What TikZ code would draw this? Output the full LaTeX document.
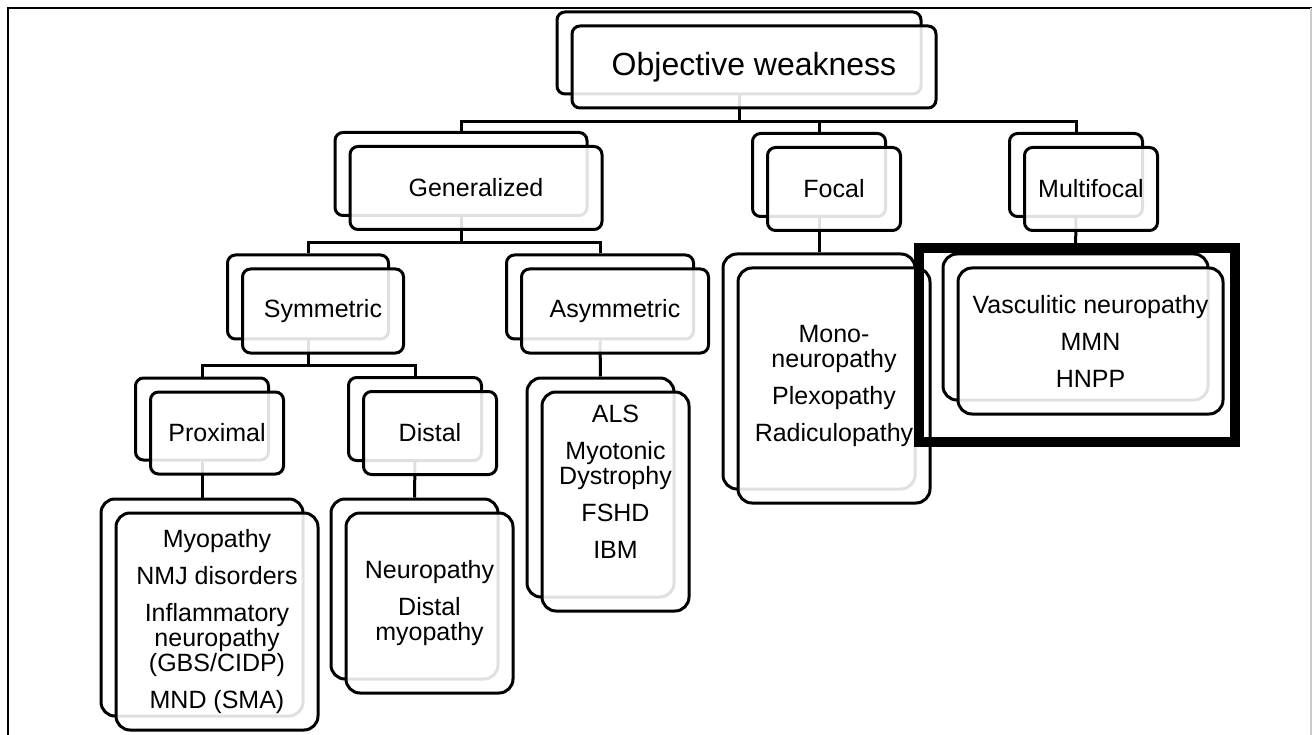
\documentclass[tikz,border=0pt]{standalone}
\usepackage{fontspec}
\setmainfont{Liberation Sans}
\begin{document}
\begin{tikzpicture}[x=1pt, y=-1pt,
  backbox/.style={draw, line width=3pt, rounded corners=8pt, fill=white, inner sep=0pt},
  frontbox/.style={backbox, fill opacity=0.88, text opacity=1, align=center, font=\fontsize{25}{25}\selectfont},
  listbox/.style={rounded corners=14pt},
  wire/.style={draw, line width=3pt},
  hilite/.style={draw, line width=10pt, inner sep=0pt}]
  \useasboundingbox (0,0) rectangle (1312,735);
  \draw [line width=2pt] (8,735) -- (8,8) -- (1312,8);
  \draw [black!20, line width=1.5pt] (1311,8) -- (1311,735);

  % shadow boxes
  \node [backbox, minimum width=364pt, minimum height=82pt] (root-b) at (739,53) {};
  \node [backbox, minimum width=252pt, minimum height=83pt] (gen-b) at (461,174) {};
  \node [backbox, minimum width=133pt, minimum height=83pt] (foc-b) at (819,175) {};
  \node [backbox, minimum width=133pt, minimum height=83pt] (mul-b) at (1076,175) {};
  \node [backbox, minimum width=161pt, minimum height=84pt] (sym-b) at (308,297) {};
  \node [backbox, minimum width=187pt, minimum height=84pt] (asym-b) at (600,297) {};
  \node [backbox, minimum width=133pt, minimum height=82pt] (prox-b) at (202,419) {};
  \node [backbox, minimum width=133pt, minimum height=83pt] (dist-b) at (415,419) {};
  \node [backbox, listbox, minimum width=202pt, minimum height=217pt] (proxl-b) at (202,607.5) {};
  \node [backbox, listbox, minimum width=167pt, minimum height=180pt] (distl-b) at (414.5,589) {};
  \node [backbox, listbox, minimum width=147pt, minimum height=219pt] (asyml-b) at (600.5,487.5) {};
  \node [backbox, listbox, minimum width=192pt, minimum height=235pt] (focl-b) at (819,371.5) {};
  \node [backbox, listbox, minimum width=265pt, minimum height=146pt] (mull-b) at (1075.5,327) {};

  % connectors
  \coordinate (bus1) at (0,122);
  \coordinate (bus2) at (0,243);
  \coordinate (bus3) at (0,365);
  \draw [wire] (root-b.south) -- (root-b.south |- bus1) -| (gen-b.north);
  \draw [wire] (root-b.south |- bus1) -| (foc-b.north);
  \draw [wire] (root-b.south |- bus1) -| (mul-b.north);
  \draw [wire] (gen-b.south) -- (gen-b.south |- bus2) -| (sym-b.north);
  \draw [wire] (gen-b.south |- bus2) -| (asym-b.north);
  \draw [wire] (sym-b.south) -- (sym-b.south |- bus3) -| (prox-b.north);
  \draw [wire] (sym-b.south |- bus3) -| (dist-b.north);
  \draw [wire] (prox-b.south) -- (proxl-b.north);
  \draw [wire] (dist-b.south) -- (distl-b.north);
  \draw [wire] (asym-b.south) -- (asyml-b.north);
  \draw [wire] (foc-b.south) -- (focl-b.north);
  \draw [wire] (mul-b.south) -- (mull-b.north);

  % front boxes
  \node [frontbox, font=\fontsize{32}{38}\selectfont, minimum width=364pt, minimum height=82pt] (root) at (754,67) {Objective weakness};
  \node [frontbox, minimum width=252pt, minimum height=83pt] (gen) at (476,188) {Generalized};
  \node [frontbox, minimum width=133pt, minimum height=83pt] (foc) at (834,189) {Focal};
  \node [frontbox, minimum width=133pt, minimum height=83pt] (mul) at (1091,189) {Multifocal};
  \node [frontbox, minimum width=161pt, minimum height=84pt] (sym) at (323,311) {Symmetric};
  \node [frontbox, minimum width=187pt, minimum height=84pt] (asym) at (615,311) {Asymmetric};
  \node [frontbox, minimum width=133pt, minimum height=82pt] (prox) at (217,433) {Proximal};
  \node [frontbox, minimum width=133pt, minimum height=83pt] (dist) at (430,433) {Distal};
  \node [frontbox, listbox, minimum width=202pt, minimum height=217pt] (proxl) at (217,621.5)
    {Myopathy\\[12pt] NMJ disorders\\[12pt] Inflammatory\\ neuropathy\\ (GBS/CIDP)\\[12pt] MND (SMA)};
  \node [frontbox, listbox, minimum width=167pt, minimum height=180pt] (distl) at (429.5,603)
    {Neuropathy\\[12pt] Distal\\ myopathy};
  \node [frontbox, listbox, minimum width=147pt, minimum height=219pt, text depth=40pt] (asyml) at (615.5,501.5)
    {ALS\\[12pt] Myotonic\\ Dystrophy\\[12pt] FSHD\\[12pt] IBM};
  \node [frontbox, listbox, minimum width=192pt, minimum height=235pt] (focl) at (834,385.5)
    {Mono-\\ neuropathy\\[12pt] Plexopathy\\[12pt] Radiculopathy};
  \node [frontbox, listbox, minimum width=265pt, minimum height=146pt] (mull) at (1090.5,341)
    {Vasculitic neuropathy\\[12pt] MMN\\[12pt] HNPP};

  \node [hilite, minimum width=316pt, minimum height=194pt] (sel) at (1077,345) {};
\end{tikzpicture}
\end{document}
